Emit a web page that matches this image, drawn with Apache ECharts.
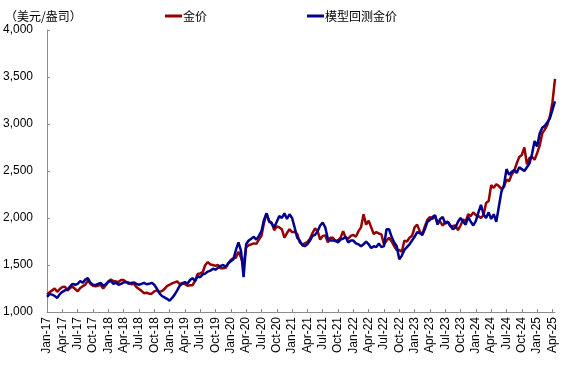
<!DOCTYPE html>
<html><head><meta charset="utf-8">
<script src="https://cdn.jsdelivr.net/npm/echarts@6/dist/echarts.min.js"></script>
<style>html,body{margin:0;padding:0;background:#fff}#c{width:568px;height:371px}</style>
</head><body><div id="c"></div>
<script>
// semi-monthly points, Jan 2017 (1st half) .. Apr 2025 (2nd half)
var goldPrice = [
1185,1210,1230,1250,1215,1245,1265,1270,1228,1255,1270,1245,1220,1255,1275,1290,1335,1300,1280,1275,1280,1290,1250,1285,
1325,1345,1330,1325,1320,1340,1340,1320,1315,1295,1300,1265,1245,1225,1200,1205,1195,1195,1220,1230,1215,1222,1245,1275,
1290,1305,1315,1325,1295,1310,1295,1280,1285,1285,1330,1405,1410,1425,1500,1530,1505,1500,1490,1500,1465,1465,1470,1515,
1555,1570,1580,1640,1580,1500,1690,1710,1720,1730,1725,1770,1810,1950,2050,1960,1950,1870,1910,1900,1880,1790,1840,1880,
1850,1850,1830,1740,1720,1730,1745,1780,1840,1890,1860,1770,1810,1815,1740,1790,1790,1750,1765,1790,1860,1790,1780,1810,
1820,1800,1860,1900,2040,1930,1970,1900,1830,1850,1835,1825,1720,1760,1790,1750,1700,1660,1660,1640,1760,1750,1790,1810,
1900,1930,1860,1820,1910,1980,2010,1990,2020,1950,1960,1920,1955,1960,1910,1915,1920,1870,1920,1985,1960,2040,2020,2060,
2030,2020,2000,2030,2160,2180,2350,2320,2360,2340,2310,2330,2410,2390,2460,2500,2580,2650,2670,2750,2570,2640,2650,2620,
2690,2770,2900,2940,2990,3080,3230,3480
];
var modelPrice = [
1160,1190,1185,1170,1150,1190,1215,1230,1240,1270,1300,1290,1300,1330,1310,1345,1360,1310,1290,1285,1300,1310,1280,1295,
1320,1330,1300,1310,1290,1300,1315,1320,1300,1310,1315,1300,1290,1300,1310,1295,1300,1310,1290,1250,1200,1170,1155,1140,
1120,1150,1185,1230,1280,1300,1320,1300,1340,1360,1330,1380,1370,1400,1410,1430,1440,1460,1450,1470,1490,1500,1480,1520,
1540,1560,1660,1740,1650,1370,1720,1760,1780,1800,1770,1810,1860,1980,2050,1970,1940,1900,1960,2020,2000,2050,1990,2040,
2000,1900,1790,1760,1710,1700,1720,1760,1810,1820,1860,1920,1950,1900,1780,1760,1760,1760,1740,1770,1780,1800,1740,1760,
1760,1730,1720,1700,1720,1750,1720,1680,1700,1690,1730,1690,1700,1880,1880,1800,1740,1700,1560,1600,1660,1690,1720,1760,
1800,1850,1840,1820,1880,1960,1980,2010,2030,1930,1990,2010,1940,1960,1920,1880,1900,1960,2000,1960,1930,2010,1960,1920,
1970,2060,2140,2040,2000,2060,1990,2040,1960,2120,2280,2350,2520,2460,2490,2510,2480,2540,2520,2500,2540,2580,2680,2820,
2760,2900,2960,2980,3020,3060,3150,3240
];
var monthNames = ['Jan','Feb','Mar','Apr','May','Jun','Jul','Aug','Sep','Oct','Nov','Dec'];
var categories = [];
for (var y = 2017; y <= 2025; y++) {
  for (var m = 0; m < 12; m++) {
    if (y === 2025 && m > 3) break;
    categories.push(monthNames[m] + '-' + String(y).slice(2));
    categories.push(monthNames[m] + '-' + String(y).slice(2) + ' mid');
  }
}
var seriesNames = ['金价', '模型回测金价'];
var chart = echarts.init(document.getElementById('c'));
var fontFam = '"Liberation Sans", Arial, sans-serif';
chart.setOption({
  animation: false,
  backgroundColor: '#fff',
  title: {
    text: '（美元/盎司）', left: 0, top: 5,
    textStyle: {fontSize: 12, fontWeight: 'normal', color: '#000', fontFamily: '"Noto Sans CJK SC", sans-serif'}
  },
  legend: {
    left: 160, top: 5, itemGap: 100, itemWidth: 17, itemHeight: 3, icon: 'rect',
    textStyle: {fontSize: 12, color: '#000', fontFamily: '"Noto Sans CJK SC", sans-serif', padding: [0, 0, 0, -4]},
    data: seriesNames
  },
  grid: {left: 47, right: 13, top: 30, bottom: 59, containLabel: false},
  xAxis: {
    type: 'category', data: categories, boundaryGap: false,
    axisLine: {lineStyle: {color: '#8c8c8c', width: 1}},
    axisTick: {inside: true, length: 3, interval: function (i) { return i % 6 === 0; }, lineStyle: {color: '#8c8c8c'}},
    axisLabel: {
      rotate: 90, interval: function (i) { return i % 6 === 0; },
      color: '#000', fontSize: 12, fontFamily: fontFam, margin: 5,
      formatter: function (v) { return v; }
    },
    splitLine: {show: false}
  },
  yAxis: {
    type: 'value', min: 1000, max: 4000, interval: 500,
    axisLine: {show: true, lineStyle: {color: '#8c8c8c', width: 1}},
    axisTick: {show: true, inside: true, length: 3, lineStyle: {color: '#8c8c8c'}},
    axisLabel: {color: '#000', fontSize: 12, fontFamily: fontFam, margin: 14,
      formatter: function (v) { return v.toLocaleString('en-US'); }},
    splitLine: {show: false}
  },
  series: [
    {name: seriesNames[0], type: 'line', data: goldPrice, showSymbol: false, symbol: 'none',
     lineStyle: {color: '#960000', width: 2.5}, itemStyle: {color: '#960000'}},
    {name: seriesNames[1], type: 'line', data: modelPrice, showSymbol: false, symbol: 'none',
     lineStyle: {color: '#000090', width: 2.5}, itemStyle: {color: '#000090'}}
  ]
});
</script></body></html>
